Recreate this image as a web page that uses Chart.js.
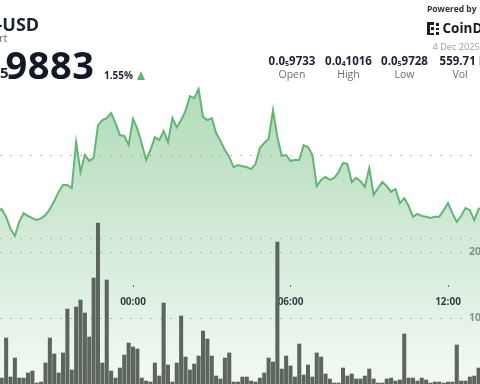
<!DOCTYPE html>
<html>
<head>
<meta charset="utf-8">
<script src="https://cdn.jsdelivr.net/npm/chart.js@4.4.1/dist/chart.umd.min.js"></script>
<style>
html, body { margin: 0; padding: 0; background: #fff; }
#wrap { position: relative; width: 480px; height: 384px; overflow: hidden; font-family: 'Open Sans', sans-serif; }
#chart { position: absolute; left: 0; top: 0; }
.t { position: absolute; white-space: nowrap; line-height: 1; }
.num { font-weight: 700; color: #1c2230; }
.lbl { color: #6f6f6f; text-align: center; width: 56px; }
.stat { text-align: center; width: 60px; }
sub { font-size: 0.62em; vertical-align: -0.15em; }
.logo { position: absolute; left: 427px; top: 22px; width: 13px; height: 13px; }
.logo i { position: absolute; background: #1e1e1e; }
</style>
</head>
<body>
<div id="wrap">
  <canvas id="chart" width="529" height="384"></canvas>

  <div class="t num" style="left:-3.5px; top:15px; font-size:18px;">-USD</div>
  <div class="t" style="left:-1px; top:32px; font-size:11px; color:#6a6a6a;">rt</div>
  <div class="t num" style="left:0px; top:65px; font-size:15px;">5</div>
  <div class="t num" style="left:5.5px; top:45px; font-size:38px; color:#111827; letter-spacing:0.5px;">9883</div>
  <div class="t num" style="left:104px; top:70px; font-size:10px;">1.55%</div>
  <div style="position:absolute; left:137px; top:71px; width:0; height:0; border-left:4.5px solid transparent; border-right:4.5px solid transparent; border-bottom:9px solid #5cb870;"></div>

  <div class="t num" style="left:427px; top:5px; font-size:8.5px; color:#333;">Powered by</div>
  <div class="logo">
    <i style="left:0; top:0; width:3px; height:13px;"></i>
    <i style="left:3px; top:0; width:4px; height:2.5px;"></i>
    <i style="left:3px; top:10.5px; width:4px; height:2.5px;"></i>
    <i style="left:4px; top:5px; width:3px; height:3px;"></i>
    <i style="left:9px; top:1px; width:2.5px; height:2.5px;"></i>
    <i style="left:9px; top:5.5px; width:2.5px; height:2.5px;"></i>
    <i style="left:9px; top:10px; width:2.5px; height:2.5px;"></i>
  </div>
  <div class="t num" style="left:442.5px; top:22px; font-size:13.5px; color:#1a1a1a;">CoinDesk</div>
  <div class="t" style="left:432.5px; top:41.5px; font-size:9.2px; color:#9a9a9a;">4 Dec 2025</div>

  <div class="t num stat" style="left:262px; top:55px; font-size:11.5px;">0.0<sub>5</sub>9733</div>
  <div class="t num stat" style="left:318.5px; top:55px; font-size:11.5px;">0.0<sub>4</sub>1016</div>
  <div class="t num stat" style="left:374.5px; top:55px; font-size:11.5px;">0.0<sub>5</sub>9728</div>
  <div class="t num stat" style="left:433px; top:55px; font-size:11.5px;">559.71 B</div>
  <div class="t lbl" style="left:264px; top:69px; font-size:10.5px;">Open</div>
  <div class="t lbl" style="left:320.5px; top:69px; font-size:10.5px;">High</div>
  <div class="t lbl" style="left:376.5px; top:69px; font-size:10.5px;">Low</div>
  <div class="t lbl" style="left:432px; top:69px; font-size:10.5px;">Vol</div>
</div>

<script>
/* ===== data (minutes from 00:00, price in 1e-6 USD) ===== */
const barStart = -300;      // first visible candle, 19:00 previous day
const barStep = 10;         // 10-minute candles
const volumes = [
    900, 6970, 1060, 3940, 900, 900, 1670, 1970, 150, 300,
    3180, 6970, 4550, 1670, 4700, 11360, 2120, 11670, 12730, 10760,
    7120, 16060, 24390, 3180, 15760, 1970, 900, 2420, 4390, 6210,
    5610, 5300, 900, 450, 300, 3180, 1210, 12270, 2880, 300,
    3180, 10300, 4090, 2120, 3030, 4240, 8030, 6820, 4240, 1210,
    760, 3940, 4700, 300, 300, 1060, 1060, 450, 300, 900,
    1670, 3940, 3330, 21520, 2270, 4240, 2730, 1060, 6060, 1360,
    2880, 1060, 4700, 4090, 1520, 760, 150, 150, 2420, 1210,
    1520, 760, 760, 1210, 2270, 760, 150, 150, 760, 900,
    450, 610, 7580, 900, 900, 450, 900, 610, 150, 300,
    300, 150, 300, 300, 5910, 450, 450, 1060, 1210, 2420
];
const priceStart = -310;
const prices = [
    9.863, 9.870, 9.851, 9.822, 9.805, 9.839, 9.860, 9.853, 9.848, 9.843,
    9.848, 9.855, 9.870, 9.889, 9.911, 9.928, 9.928, 9.920, 10.031, 9.959,
    10.000, 9.986, 9.993, 10.072, 10.084, 10.089, 10.101, 10.077, 10.048, 10.046,
    10.024, 10.087, 10.063, 10.027, 9.988, 10.012, 10.043, 10.036, 10.058, 10.031,
    10.089, 10.067, 10.084, 10.106, 10.142, 10.137, 10.159, 10.092, 10.084, 10.089,
    10.053, 10.034, 10.012, 9.995, 9.971, 9.976, 9.973, 9.971, 9.966, 9.978,
    10.017, 10.029, 10.039, 10.108, 10.043, 9.998, 10.000, 9.986, 9.988, 9.988,
    10.024, 10.019, 10.000, 9.925, 9.940, 9.947, 9.940, 9.945, 9.959, 9.981,
    9.978, 9.935, 9.945, 9.937, 9.923, 9.969, 9.904, 9.920, 9.935, 9.925,
    9.911, 9.918, 9.884, 9.896, 9.877, 9.851, 9.858, 9.853, 9.851, 9.848,
    9.851, 9.851, 9.867, 9.884, 9.860, 9.839, 9.853, 9.872, 9.867, 9.843,
    9.870, 9.875
];
const timeTicks = [0, 360, 720];
const timeLabels = ['00:00', '06:00', '12:00'];
const priceTicks = [9.8, 10.0];
const volumeTicks = [10000, 20000];

const C = {
    line: '#62b572',
    bar: '#5c665f',
    grid: '#c2c2c2',
    text: '#1f2430',
    axis: '#8c8c8c'
};

const volData = volumes.map((v, i) => ({ x: barStart + i * barStep, y: v }));
const priceData = prices.map((p, i) => ({ x: priceStart + i * barStep, y: p }));

const setTicks = list => scale => { scale.ticks = list.map(v => ({ value: v })); };
const noWidth = scale => { scale.width = 0; };

// canvas runs past the 480px window; the right part (volume labels) is cut off
new Chart(document.getElementById('chart'), {
    type: 'bar',
    data: {
        datasets: [
            {
                type: 'line', data: priceData, yAxisID: 'yP', order: 2,
                borderColor: C.line, borderWidth: 2, pointRadius: 0, tension: 0,
                fill: 'start',
                backgroundColor: ctx => {
                    const a = ctx.chart.chartArea;
                    if (!a) return 'rgba(98,181,114,0.3)';
                    const g = ctx.chart.ctx.createLinearGradient(0, a.top, 0, a.bottom);
                    g.addColorStop(0, 'rgba(98,181,114,0.62)');
                    g.addColorStop(1, 'rgba(98,181,114,0.08)');
                    return g;
                }
            },
            {
                type: 'bar', data: volData, yAxisID: 'yV', order: 1,
                backgroundColor: C.bar, barThickness: 3.4
            }
        ]
    },
    options: {
        responsive: false, animation: false,
        layout: { padding: 0 },
        plugins: { legend: { display: false }, tooltip: { enabled: false } },
        scales: {
            x: {
                type: 'linear', min: -304, max: 905.14, offset: false,
                position: { yV: 15000 },
                afterBuildTicks: setTicks(timeTicks),
                ticks: {
                    padding: 9, color: C.text,
                    font: { family: "'Open Sans', sans-serif", size: 10, weight: '700' },
                    callback: v => timeLabels[timeTicks.indexOf(v)]
                },
                grid: { drawOnChartArea: false, offset: false, tickLength: 2, tickColor: '#666' },
                border: { display: false }
            },
            yP: {
                type: 'linear', position: 'left', min: 9.4482, max: 10.3735,
                afterBuildTicks: setTicks(priceTicks), afterFit: noWidth,
                ticks: { display: false },
                grid: { color: C.grid, drawTicks: false },
                border: { display: false, dash: [2, 8] }
            },
            yV: {
                type: 'linear', position: 'right', min: 0, max: 58182,
                afterBuildTicks: setTicks(volumeTicks), afterFit: noWidth,
                ticks: {
                    mirror: true, padding: -27, color: C.axis,
                    font: { family: "'Open Sans', sans-serif", size: 10.5, weight: '700' },
                    callback: v => v.toLocaleString('en-US')
                },
                grid: { color: C.grid, drawTicks: false },
                border: { display: false, dash: [2, 8] }
            }
        }
    }
});
</script>
</body>
</html>
